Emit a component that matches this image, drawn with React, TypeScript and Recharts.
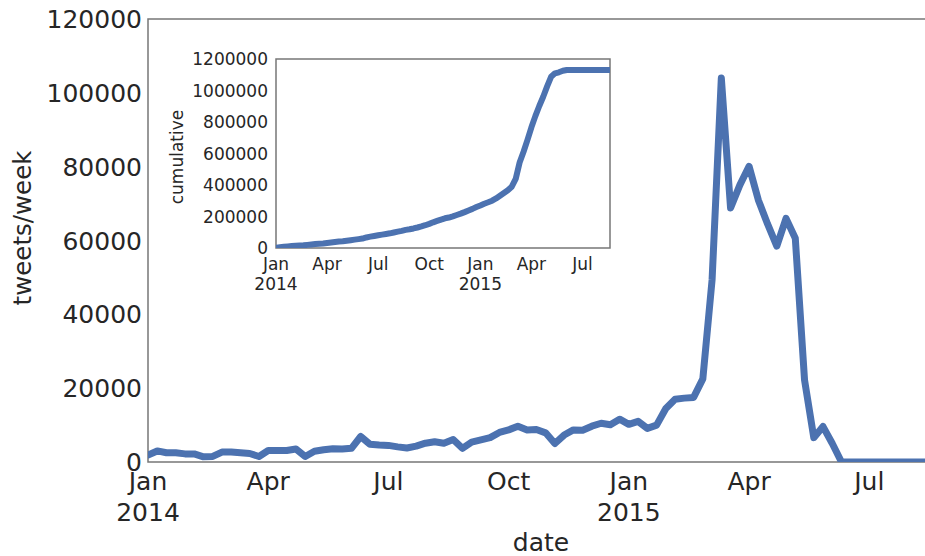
import React from "react";
import { LineChart, Line, XAxis, YAxis, ReferenceArea } from "recharts";

// week index since the first week of Jan 2014
const weeks = [
  0, 1, 2, 3, 4, 5, 6, 7, 8, 9, 10, 11, 12, 13, 14, 15, 16, 17, 18, 19, 20,
  21, 22, 23, 24, 25, 26, 27, 28, 29, 30, 31, 32, 33, 34, 35, 36, 37, 38, 39,
  40, 41, 42, 43, 44, 45, 46, 47, 48, 49, 50, 51, 52, 53, 54, 55, 56, 57, 58,
  59, 60, 61, 62, 63, 64, 65, 66, 67, 68, 69, 70, 71, 72, 73, 74, 75, 76, 77,
  78, 79, 80, 81, 82, 83, 84, 85,
];

const tweetsPerWeek = [
  1900, 3000, 2500, 2500, 2200, 2200, 1400, 1500, 2700, 2700, 2500, 2300,
  1500, 3100, 3100, 3100, 3500, 1500, 2900, 3300, 3600, 3500, 3700, 6900,
  4800, 4600, 4500, 4100, 3800, 4300, 5100, 5500, 5100, 6100, 3700, 5400,
  6000, 6600, 8000, 8700, 9700, 8700, 8800, 7900, 5000, 7300, 8700, 8600,
  9700, 10500, 10100, 11600, 10200, 11000, 9100, 10000, 14500, 17000, 17300,
  17500, 22500, 49300, 104000, 68800, 75000, 80100, 71000, 64500, 58500,
  66000, 60600, 22200, 6600, 9600, 5000, 0, 0, 0, 0, 0, 0, 0, 0, 0, 0, 0,
];

const cumulative = [
  1900, 4900, 7400, 9900, 12100, 14300, 15700, 17200, 19900, 22600, 25100,
  27400, 28900, 32000, 35100, 38200, 41700, 43200, 46100, 49400, 53000, 56500,
  60200, 67100, 71900, 76500, 81000, 85100, 88900, 93200, 98300, 103800,
  108900, 115000, 118700, 124100, 130100, 136700, 144700, 153400, 163100,
  171800, 180600, 188500, 193500, 200800, 209500, 218100, 227800, 238300,
  248400, 260000, 270200, 281200, 290300, 300300, 314800, 331800, 349100,
  366600, 389100, 438400, 542400, 611200, 686200, 766300, 837300, 901800,
  960300, 1026300, 1086900, 1109100, 1115700, 1125300, 1130300, 1130300,
  1130300, 1130300, 1130300, 1130300, 1130300, 1130300, 1130300, 1130300,
  1130300, 1130300,
];

const xTickWeeks = [0, 13, 26, 39, 52, 65, 78];
const xTickLabels = ["Jan\n2014", "Apr", "Jul", "Oct", "Jan\n2015", "Apr", "Jul"];
const mainYTicks = [0, 20000, 40000, 60000, 80000, 100000, 120000];
const insetYTicks = [0, 200000, 400000, 600000, 800000, 1000000, 1200000];

const data = weeks.map((w, i) => ({
  week: w,
  tweets: tweetsPerWeek[i],
  cum: cumulative[i],
}));

const FONT = "DejaVu Sans";
const TXT = "#262626";
const BLUE = "#4c72b0";
const SPINE = "#777777";

const labelFor = (v: number) => {
  const i = xTickWeeks.indexOf(v);
  return i >= 0 ? xTickLabels[i] : String(v);
};

const makeXTick =
  (fs: number, d1: number, d2: number) =>
  (p: any) => {
    const lines = labelFor(p.payload.value).split("\n");
    return (
      <text
        textAnchor="middle"
        fill={TXT}
        fontSize={fs}
        fontFamily={FONT}
      >
        {lines.map((l: string, i: number) => (
          <tspan key={i} x={p.x} y={p.y + (i === 0 ? d1 : d2)}>
            {l}
          </tspan>
        ))}
      </text>
    );
  };

const makeYTick = (fs: number) => (p: any) => (
  <text
    x={p.x}
    y={p.y}
    dy={fs * 0.36}
    textAnchor="end"
    fill={TXT}
    fontSize={fs}
    fontFamily={FONT}
  >
    {String(p.payload.value)}
  </text>
);

export default function App() {
  return (
    <div
      style={{
        position: "fixed",
        left: 0,
        top: 0,
        width: 925,
        height: 556,
        overflow: "hidden",
        background: "#fff",
      }}
    >
      <LineChart
        width={950}
        height={556}
        data={data}
        margin={{ top: 19, right: 16, bottom: 0, left: 0 }}
      >
        <XAxis
          type="number"
          dataKey="week"
          domain={[0, 85]}
          ticks={xTickWeeks}
          allowDataOverflow
          axisLine={false}
          tickLine={false}
          tickSize={0}
          tickMargin={0}
          height={94}
          interval={0}
          tick={makeXTick(25, 28, 59)}
          label={{
            content: (lp: any) => {
              const vb = lp.viewBox;
              return (
                <text
                  x={vb.x + vb.width / 2}
                  y={551}
                  textAnchor="middle"
                  fill={TXT}
                  fontSize={25}
                  fontFamily={FONT}
                >
                  date
                </text>
              );
            },
          }}
        />
        <YAxis
          type="number"
          domain={[0, 120000]}
          ticks={mainYTicks}
          allowDataOverflow
          axisLine={false}
          tickLine={false}
          tickSize={0}
          tickMargin={6}
          width={148}
          interval={0}
          tick={makeYTick(25)}
          label={{
            content: () => (
              <text
                x={22}
                y={228}
                transform="rotate(-90 22 228)"
                textAnchor="middle"
                dominantBaseline="central"
                fill={TXT}
                fontSize={24.5}
                fontFamily={FONT}
              >
                tweets/week
              </text>
            ),
          }}
        />
        <Line
          type="linear"
          dataKey="tweets"
          stroke={BLUE}
          strokeWidth={7}
          dot={false}
          isAnimationActive={false}
          strokeLinejoin="round"
          strokeLinecap="round"
        />
        <ReferenceArea
          x1={0}
          x2={85}
          y1={0}
          y2={120000}
          fill="none"
          fillOpacity={0}
          stroke={SPINE}
          strokeWidth={1.5}
          ifOverflow="visible"
        />
      </LineChart>

      <div style={{ position: "absolute", left: 160, top: 50 }}>
        <LineChart
          width={460}
          height={250}
          data={data}
          margin={{ top: 9, right: 10, bottom: 0, left: 0 }}
        >
          <XAxis
            type="number"
            dataKey="week"
            domain={[0, 85]}
            ticks={xTickWeeks}
            allowDataOverflow
            axisLine={false}
            tickLine={false}
            tickSize={0}
            tickMargin={0}
            height={52}
            interval={0}
            tick={makeXTick(17, 22, 42)}
          />
          <YAxis
            type="number"
            domain={[0, 1200000]}
            ticks={insetYTicks}
            allowDataOverflow
            axisLine={false}
            tickLine={false}
            tickSize={0}
            tickMargin={8}
            width={116}
            interval={0}
            tick={makeYTick(17)}
            label={{
              content: () => (
                <text
                  x={17}
                  y={107}
                  transform="rotate(-90 17 107)"
                  textAnchor="middle"
                  dominantBaseline="central"
                  fill={TXT}
                  fontSize={17}
                  fontFamily={FONT}
                >
                  cumulative
                </text>
              ),
            }}
          />
          <Line
            type="linear"
            dataKey="cum"
            stroke={BLUE}
            strokeWidth={6}
            dot={false}
            isAnimationActive={false}
            strokeLinejoin="round"
            strokeLinecap="round"
          />
          <ReferenceArea
            x1={0}
            x2={85}
            y1={0}
            y2={1200000}
            fill="none"
            fillOpacity={0}
            stroke={SPINE}
            strokeWidth={1.5}
            ifOverflow="visible"
          />
        </LineChart>
      </div>
    </div>
  );
}
